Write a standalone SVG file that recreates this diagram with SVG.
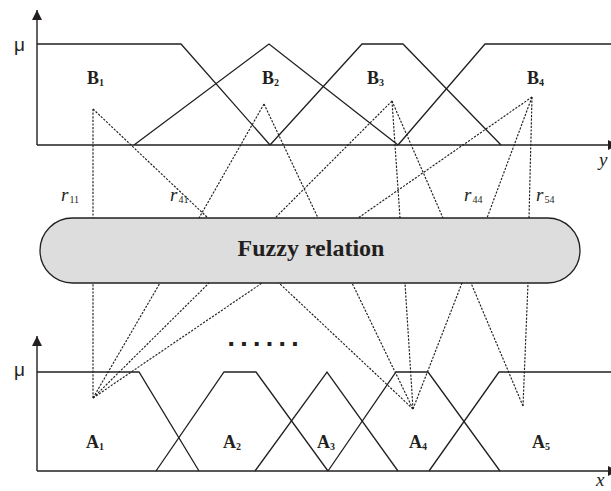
<svg xmlns="http://www.w3.org/2000/svg" width="611" height="491" viewBox="0 0 611 491">
<style>
.ax{fill:none;stroke:#231f20;stroke-width:1.4}
.mf{fill:none;stroke:#231f20;stroke-width:1.3;stroke-linejoin:miter}
.dl{fill:none;stroke:#231f20;stroke-width:1.15;stroke-dasharray:2.2 1.4}
.lbl{font-family:"Liberation Serif",serif;font-weight:bold;font-size:18px;fill:#231f20}
.sub{font-size:10px}
.r{font-family:"Liberation Serif",serif;font-style:italic;font-size:19px;fill:#231f20}
.rs{font-style:normal;font-size:10px}
.mu{font-family:"Liberation Sans",sans-serif;font-size:19px;fill:#231f20}
.var{font-family:"Liberation Serif",serif;font-style:italic;font-size:19px;fill:#231f20}
.title{font-family:"Liberation Serif",serif;font-weight:bold;font-size:24px;fill:#231f20}
</style>
<defs>
<marker id="arr" viewBox="0 0 10 10" refX="10" refY="5" markerWidth="10" markerHeight="12" markerUnits="userSpaceOnUse" orient="auto">
<path d="M0,0 L10,5 L0,10 z" fill="#231f20"/>
</marker>
</defs>
<rect width="611" height="491" fill="#ffffff"/>

<g id="output-axes">
<line class="ax" x1="37" y1="145" x2="37" y2="10" marker-end="url(#arr)"/>
<line class="ax" x1="37" y1="145" x2="618" y2="145" marker-end="url(#arr)"/>
<text class="mu" x="14" y="51">μ</text>
<text class="var" x="599" y="166">y</text>
</g>

<g id="B1">
<polyline class="mf" points="37,44 181,44 270,145"/>
<text class="lbl" x="87" y="84">B<tspan class="sub" dy="2">1</tspan></text>
</g>
<g id="B2">
<polyline class="mf" points="134,145 269,44 398,145"/>
<text class="lbl" x="262" y="84">B<tspan class="sub" dy="2">2</tspan></text>
</g>
<g id="B3">
<polyline class="mf" points="270,145 362,44 403,44 501,145"/>
<text class="lbl" x="367" y="84">B<tspan class="sub" dy="2">3</tspan></text>
</g>
<g id="B4">
<polyline class="mf" points="398,145 485,44 611,44"/>
<text class="lbl" x="527" y="84">B<tspan class="sub" dy="2">4</tspan></text>
</g>

<g id="relation">
<rect x="40" y="218" width="540" height="65" rx="32.5" ry="32.5" fill="#dddddd" stroke="#231f20" stroke-width="1.3"/>
<text class="title" x="311" y="256" text-anchor="middle">Fuzzy relation</text>
</g>

<g id="input-axes">
<line class="ax" x1="37" y1="471" x2="37" y2="336" marker-end="url(#arr)"/>
<line class="ax" x1="37" y1="471" x2="618" y2="471" marker-end="url(#arr)"/>
<text class="mu" x="14" y="376">μ</text>
<text class="var" x="596" y="486">x</text>
</g>

<g id="A1">
<polyline class="mf" points="37,372 139,372 199,471"/>
<text class="lbl" x="86" y="448">A<tspan class="sub" dy="2">1</tspan></text>
</g>
<g id="A2">
<polyline class="mf" points="156,471 224,372 256,372 328,471"/>
<text class="lbl" x="223" y="448">A<tspan class="sub" dy="2">2</tspan></text>
</g>
<g id="A3">
<polyline class="mf" points="255,471 327,372 398,471"/>
<text class="lbl" x="317" y="448">A<tspan class="sub" dy="2">3</tspan></text>
</g>
<g id="A4">
<polyline class="mf" points="328,471 396,372 428,372 500,471"/>
<text class="lbl" x="409" y="448">A<tspan class="sub" dy="2">4</tspan></text>
</g>
<g id="A5">
<polyline class="mf" points="429,471 499,372 611,372"/>
<text class="lbl" x="532" y="448">A<tspan class="sub" dy="2">5</tspan></text>
</g>

<g id="connectors">
<line class="dl" x1="93" y1="109" x2="93" y2="218"/>
<line class="dl" x1="93" y1="109" x2="208" y2="218"/>
<line class="dl" x1="264" y1="104" x2="199" y2="218"/>
<line class="dl" x1="264" y1="104" x2="318" y2="218"/>
<line class="dl" x1="392" y1="101" x2="275" y2="218"/>
<line class="dl" x1="392" y1="101" x2="400" y2="218"/>
<line class="dl" x1="392" y1="101" x2="443" y2="218"/>
<line class="dl" x1="532" y1="97" x2="358" y2="218"/>
<line class="dl" x1="532" y1="97" x2="487" y2="218"/>
<line class="dl" x1="532" y1="97" x2="529" y2="218"/>

<line class="dl" x1="93" y1="398" x2="93" y2="283"/>
<line class="dl" x1="93" y1="398" x2="160" y2="283"/>
<line class="dl" x1="93" y1="398" x2="209" y2="283"/>
<line class="dl" x1="93" y1="398" x2="262" y2="283"/>
<line class="dl" x1="413" y1="409" x2="279" y2="283"/>
<line class="dl" x1="413" y1="409" x2="352" y2="283"/>
<line class="dl" x1="413" y1="409" x2="405" y2="283"/>
<line class="dl" x1="413" y1="409" x2="462" y2="283"/>
<line class="dl" x1="523" y1="406" x2="471" y2="283"/>
<line class="dl" x1="523" y1="406" x2="528" y2="283"/>
</g>

<g id="labels">
<text class="r" x="61" y="201">r<tspan class="rs" dx="1" dy="2">11</tspan></text>
<text class="r" x="170" y="201">r<tspan class="rs" dx="1" dy="2">41</tspan></text>
<text class="r" x="464" y="201">r<tspan class="rs" dx="1" dy="2">44</tspan></text>
<text class="r" x="536" y="201">r<tspan class="rs" dx="1" dy="2">54</tspan></text>
<text x="227" y="346" font-family="DejaVu Sans,sans-serif" font-weight="bold" font-size="22" letter-spacing="4.4" fill="#231f20">......</text>
</g>
</svg>
